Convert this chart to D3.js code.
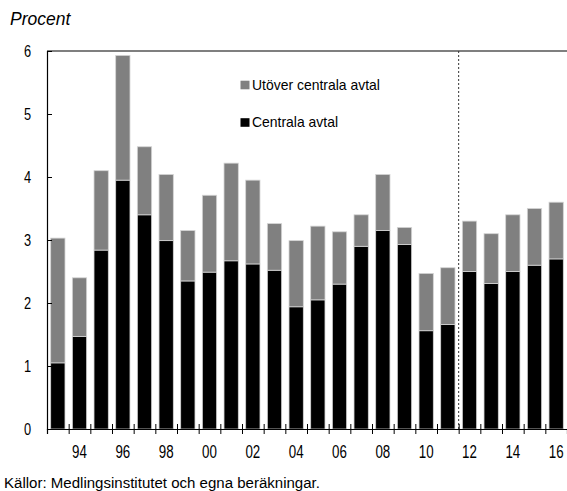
<!DOCTYPE html>
<html>
<head>
<meta charset="utf-8">
<script src="https://cdn.jsdelivr.net/npm/d3@7"></script>
<style>
  html, body { margin: 0; padding: 0; background: #fff; }
  svg { display: block; }
  text { font-family: "Liberation Sans", Arial, sans-serif; }
</style>
</head>
<body>
<svg id="chart" width="567" height="491"></svg>
<script>
// ---- Data ----
const years = d3.range(1993, 2017);
const centralaAvtal = [1.05, 1.47, 2.84, 3.95, 3.40, 2.99, 2.35, 2.49, 2.67, 2.62, 2.52, 1.94,
                       2.05, 2.30, 2.90, 3.15, 2.93, 1.56, 1.66, 2.50, 2.31, 2.50, 2.60, 2.70];
const utoverCentrala = [1.98, 0.93, 1.26, 1.98, 1.08, 1.05, 0.80, 1.22, 1.55, 1.33, 0.74, 1.05,
                        1.17, 0.83, 0.50, 0.89, 0.27, 0.91, 0.90, 0.80, 0.79, 0.90, 0.90, 0.90];
const seriesNames = ["Centrala avtal", "Utöver centrala avtal"];
const seriesColors = ["#000000", "#808080"];
const yTicks = [0, 1, 2, 3, 4, 5, 6];
const xLabelYears = [1994, 1996, 1998, 2000, 2002, 2004, 2006, 2008, 2010, 2012, 2014, 2016];
const forecastStart = 2012;
const unitLabel = "Procent";
const sourceText = "Källor: Medlingsinstitutet och egna beräkningar.";

// ---- Layout ----
const svg = d3.select("#chart");
const pLeft = 47, pRight = 567, pTop = 51, pBottom = 429;

// condense text horizontally (reference uses a condensed typeface)
function condense(sel, factor) {
  sel.each(function () {
    const w = this.getComputedTextLength();
    d3.select(this).attr("textLength", w * factor).attr("lengthAdjust", "spacingAndGlyphs");
  });
}

const x = d3.scaleBand().domain(years).range([pLeft, pRight]).paddingInner(0.34).paddingOuter(0.17);
const xb = d3.scaleLinear().domain([1993, 2017]).range([pLeft, pRight]);
const y = d3.scaleLinear().domain([0, 6]).range([pBottom, pTop]);

const table = years.map((yr, i) => ({ year: yr, c: centralaAvtal[i], u: utoverCentrala[i] }));
const stacked = d3.stack().keys(["c", "u"])(table);

// bars
svg.append("g").selectAll("g").data(stacked).join("g")
  .attr("fill", (d, i) => seriesColors[i])
  .selectAll("rect").data(d => d).join("rect")
  .attr("x", d => x(d.data.year))
  .attr("width", x.bandwidth())
  .attr("y", d => y(d[1]))
  .attr("height", d => y(d[0]) - y(d[1]))
  .attr("stroke", "#d4d4d4")
  .attr("stroke-width", 0.8);

// top frame line
svg.append("line").attr("x1", pLeft).attr("x2", pRight).attr("y1", y(6)).attr("y2", y(6))
  .attr("stroke", "#000").attr("stroke-width", 1.2);

// forecast divider
svg.append("line")
  .attr("x1", xb(forecastStart)).attr("x2", xb(forecastStart))
  .attr("y1", y(6)).attr("y2", y(0))
  .attr("stroke", "#333").attr("stroke-width", 1).attr("stroke-dasharray", "2,2");

// y axis
const yAxis = svg.append("g").attr("transform", `translate(${pLeft},0)`)
  .call(d3.axisLeft(y).tickValues(yTicks).tickSize(-5).tickPadding(16).tickFormat(d3.format("d")));
yAxis.attr("font-family", null).attr("font-size", null);
yAxis.select(".domain").attr("stroke", "#000").attr("stroke-width", 1.2);
yAxis.selectAll(".tick line").attr("stroke", "#000");
yAxis.selectAll("text").attr("font-size", 16).attr("fill", "#000").call(condense, 0.8);

// x axis (ticks at year boundaries)
const xAxis = svg.append("g").attr("transform", `translate(0,${pBottom})`)
  .call(d3.axisBottom(xb).tickValues(d3.range(1993, 2017)).tickSize(5).tickFormat(""));
xAxis.select(".domain").attr("stroke", "#000").attr("stroke-width", 1.2);
xAxis.selectAll(".tick line").attr("y1", -5).attr("y2", 5).attr("stroke", "#000");

// x labels
const xLab = svg.append("g").attr("transform", `translate(0,${pBottom + 10})`)
  .call(d3.axisBottom(x).tickValues(xLabelYears).tickSize(0).tickPadding(6)
    .tickFormat(d => String(d).slice(2)));
xLab.attr("font-family", null).attr("font-size", null);
xLab.select(".domain").remove();
xLab.selectAll("text").attr("font-size", 18).attr("fill", "#000").call(condense, 0.74);

// unit label
svg.append("text").attr("x", 10).attr("y", 25)
  .attr("font-style", "italic").attr("font-size", 17.5).text(unitLabel);

// legend
const legendItems = [
  { name: seriesNames[1], color: seriesColors[1], y: 85 },
  { name: seriesNames[0], color: seriesColors[0], y: 122.5 }
];
const lg = svg.append("g");
legendItems.forEach(it => {
  lg.append("rect").attr("x", 240.5).attr("y", it.y - 4.3).attr("width", 9).attr("height", 8.6).attr("fill", it.color);
  lg.append("text").attr("x", 252).attr("y", it.y + 4.8).attr("font-size", 15).text(it.name).call(condense, 0.93);
});

// source
svg.append("text").attr("x", 4).attr("y", 487.5)
  .attr("font-size", 15.5).text(sourceText).call(condense, 0.97);
</script>
</body>
</html>
